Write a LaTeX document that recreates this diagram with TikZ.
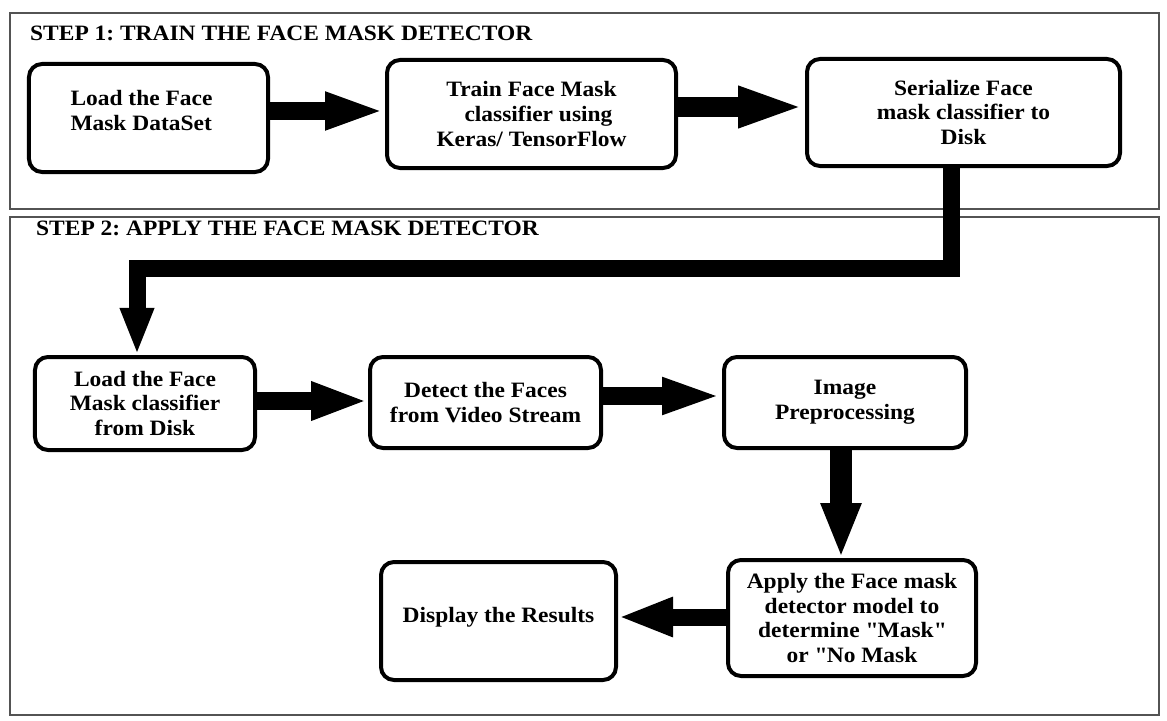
\documentclass[tikz,border=0pt]{standalone}
\usepackage{fontspec}
\setmainfont{Liberation Serif}[FakeStretch=1.07]
\usetikzlibrary{arrows.meta,calc}
\begin{document}
\frenchspacing
\begin{tikzpicture}[x=1bp,y=-1bp,
  box/.style={draw=black, line width=4bp, rounded corners=13bp, inner sep=0pt,
    align=center, text=black, font=\bfseries\fontsize{22}{25}\selectfont},
  frame/.style={draw=gray!65!black, line width=1.5bp},
  title/.style={anchor=base west, inner sep=0pt, text=black,
    font=\bfseries\fontsize{22}{25}\selectfont},
  conn/.style={draw=black, line width=#1, line join=miter},
  conn/.default=18bp
]
\useasboundingbox (0,0) rectangle (1167,721);
\fill[white] (0,0) rectangle (1167,721);

% frames
\draw[frame] (10,13) rectangle (1159,209);
\draw[frame] (10,217) rectangle (1159,715);
\node[title] (t1) at (30,41) {STEP 1: TRAIN THE FACE MASK DETECTOR};
\node[title] (t2) at (36,235) {STEP 2: APPLY THE FACE MASK DETECTOR};

% boxes
\node[box, align=left, minimum width=239bp, minimum height=108bp, text depth=15bp] (b1) at (148.5,118) {Load the Face\hspace*{14bp}\\Mask DataSet};
\node[box, minimum width=289bp, minimum height=108bp] (b2) at (531.5,114) {Train Face Mask\\\hspace*{14bp}classifier using\\Keras/ TensorFlow};
\node[box, minimum width=313bp, minimum height=107bp] (b3) at (963.5,112.5) {Serialize Face\\mask classifier to\\Disk};
\node[box, minimum width=220bp, minimum height=93bp] (b4) at (145,403.5) {Load the Face\\Mask classifier\\from Disk};
\node[box, minimum width=231bp, minimum height=91bp] (b5) at (485.5,402.5) {Detect the Faces\\from Video Stream};
\node[box, minimum width=242bp, minimum height=91bp] (b6) at (845,402.5) {Image\\Preprocessing};
\node[box, minimum width=248bp, minimum height=116bp] (b7) at (852,618) {Apply the Face mask\\detector model to\\determine \textquotedbl Mask\textquotedbl\\or \textquotedbl No Mask};
\node[box, minimum width=235bp, minimum height=118bp, text depth=13bp] (b8) at (498.5,621) {Display the Results};

% connectors
\draw[conn=18bp, -{Triangle[length=60bp,width=34bp]}] ([yshift=7bp]b1.east) -- ([yshift=7bp]b1.east -| b2.west);
\draw[conn=20bp, -{Triangle[length=67bp,width=37bp]}] ([yshift=7bp]b2.east) -- ([yshift=7bp]b2.east -| b3.west);

\coordinate (k1) at (951,268.5);
\coordinate (k2) at (137,268.5);
\draw[conn=17bp, -{Triangle[length=47bp,width=31bp]}] (b3.south -| k1) -- (k1) -- (k2) -- (b4.north -| k2);

\draw[conn=18bp, -{Triangle[length=57bp,width=35bp]}] ([yshift=2.5bp]b4.east) -- ([yshift=2.5bp]b4.east -| b5.west);
\draw[conn=18bp, -{Triangle[length=60bp,width=33bp]}] ([yshift=6.5bp]b5.east) -- ([yshift=6.5bp]b5.east -| b6.west);
\draw[conn=22bp, -{Triangle[length=55bp,width=37bp]}] ([xshift=-4bp]b6.south) -- ([xshift=-4bp]b6.south |- b7.north);
\draw[conn=17bp, -{Triangle[length=55bp,width=36bp]}] ([yshift=1bp]b7.west) -- ([yshift=1bp]b7.west -| b8.east);
\end{tikzpicture}
\end{document}
